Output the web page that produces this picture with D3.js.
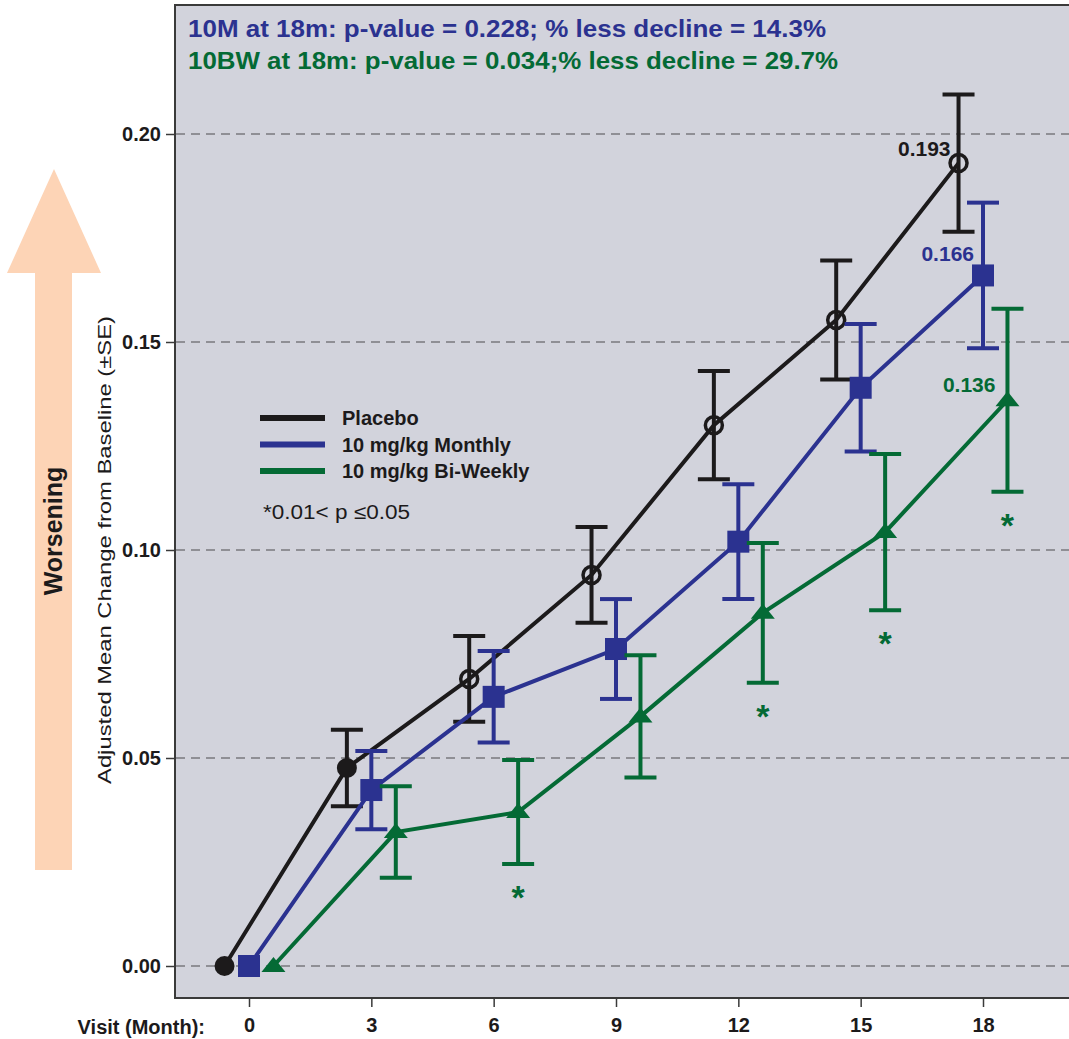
<!DOCTYPE html>
<html>
<head>
<meta charset="utf-8">
<script src="https://cdn.jsdelivr.net/npm/d3@7"></script>
<style>
  body { margin: 0; background: #fff; }
  text { font-family: "Liberation Sans", Arial, sans-serif; }
</style>
</head>
<body>
<svg id="chart" width="1069" height="1039"></svg>
<script>
// data
var months = [0, 3, 6, 9, 12, 15, 18];
var placeboMean = [0, 0.0476, 0.069, 0.094, 0.130, 0.1553, 0.193];
var placeboSE = [0, 0.0092, 0.0103, 0.0115, 0.013, 0.0143, 0.0165];
var monthlyMean = [0, 0.0423, 0.0647, 0.0762, 0.102, 0.139, 0.166];
var monthlySE = [0, 0.0094, 0.011, 0.012, 0.0138, 0.0153, 0.0175];
var biweeklyMean = [0, 0.0322, 0.037, 0.060, 0.0849, 0.1043, 0.136];
var biweeklySE = [0, 0.011, 0.0125, 0.0147, 0.0168, 0.0188, 0.022];
var biweeklySignif = [false, false, true, false, true, true, true];
var yTicks = [0, 0.05, 0.10, 0.15, 0.20];
var seriesNames = ['Placebo', '10 mg/kg Monthly', '10 mg/kg Bi-Weekly'];
var headerLines = ['10M at 18m: p-value = 0.228; % less decline = 14.3%',
                   '10BW at 18m: p-value = 0.034;% less decline = 29.7%'];

var colors = ['#1c1a1b', '#2b3290', '#046a35'];
var bg = '#d2d3dc';
var FONT = '"Liberation Sans", Arial, sans-serif';

var svg = d3.select('#chart');

var x = d3.scaleLinear().domain([0, 18]).range([249, 983]);
var y = d3.scaleLinear().domain([0, 0.2]).range([966, 134]);

// frame (plot box runs off the right edge like the original)
var frameL = 175, frameT = 5, frameB = 998, frameR = 1080;

svg.append('rect')
    .attr('x', frameL).attr('y', frameT)
    .attr('width', frameR - frameL).attr('height', frameB - frameT)
    .attr('fill', bg).attr('stroke', '#3a3a3a').attr('stroke-width', 2);

// grid
svg.append('g').selectAll('line').data(yTicks).enter().append('line')
    .attr('x1', frameL + 1).attr('x2', frameR)
    .attr('y1', (d) => y(d)).attr('y2', (d) => y(d))
    .attr('stroke', '#7a7a7e').attr('stroke-width', 1.3)
    .attr('stroke-dasharray', '9,6');

// y axis
var yAxis = svg.append('g')
    .attr('transform', 'translate(' + frameL + ',0)')
    .call(d3.axisLeft(y).tickValues(yTicks).tickFormat(d3.format('.2f')).tickSize(9).tickPadding(5));
yAxis.select('.domain').remove();
yAxis.selectAll('line').attr('stroke', '#3a3a3a').attr('stroke-width', 1.5);
yAxis.selectAll('text').attr('font-size', 20).attr('font-weight', 'bold')
    .attr('fill', '#1c1a1b').style('font-family', FONT);

// x axis
var xAxis = svg.append('g')
    .attr('transform', 'translate(0,' + frameB + ')')
    .call(d3.axisBottom(x).tickValues(months).tickFormat(d3.format('d')).tickSize(9).tickPadding(11));
xAxis.select('.domain').remove();
xAxis.selectAll('line').attr('stroke', '#3a3a3a').attr('stroke-width', 1.5);
xAxis.selectAll('text').attr('font-size', 20).attr('font-weight', 'bold')
    .attr('fill', '#1c1a1b').style('font-family', FONT);

svg.append('text').attr('x', 205).attr('y', 1034).attr('text-anchor', 'end')
    .attr('font-size', 20).attr('font-weight', 'bold').attr('fill', '#1c1a1b')
    .text('Visit (Month):');

// worsening arrow
svg.append('path')
    .attr('d', 'M35,870 L35,273 L7,273 L54,169 L101,273 L72,273 L72,870 Z')
    .attr('fill', '#fdd4b6');
svg.append('text')
    .attr('transform', 'translate(62,531) rotate(-90)')
    .attr('text-anchor', 'middle')
    .attr('font-size', 25).attr('font-weight', 'bold').attr('fill', '#1c1a1b')
    .text('Worsening');

// y label
svg.append('text')
    .attr('transform', 'translate(111,550) rotate(-90)')
    .attr('text-anchor', 'middle')
    .attr('font-size', 18).attr('fill', '#1c1a1b')
    .attr('textLength', 468).attr('lengthAdjust', 'spacingAndGlyphs')
    .text('Adjusted Mean Change from Baseline  (\u00b1SE)');

// header
svg.append('g').selectAll('text').data(headerLines).enter().append('text')
    .attr('x', 188).attr('y', (d, i) => 37 + i * 32)
    .attr('font-size', 24).attr('font-weight', 'bold')
    .attr('textLength', (d, i) => [638, 650][i]).attr('lengthAdjust', 'spacingAndGlyphs')
    .attr('fill', (d, i) => colors[i + 1])
    .text((d) => d);

// series
var series = [
    { mean: placeboMean, se: placeboSE, off: -0.6, color: colors[0], marker: 'circle' },
    { mean: monthlyMean, se: monthlySE, off: 0, color: colors[1], marker: 'square' },
    { mean: biweeklyMean, se: biweeklySE, off: 0.6, color: colors[2], marker: 'triangle' }
];

var line = d3.line().x((d) => x(d.m)).y((d) => y(d.v));

series.forEach(function(s) {
    var pts = months.map((m, i) => ({ m: m + s.off, v: s.mean[i], se: s.se[i], i: i }));
    var g = svg.append('g');

    // error bars
    var eb = g.selectAll('g.err').data(pts.filter((d) => d.se > 0)).enter().append('g');
    eb.append('line')
        .attr('x1', (d) => x(d.m)).attr('x2', (d) => x(d.m))
        .attr('y1', (d) => y(d.v + d.se)).attr('y2', (d) => y(d.v - d.se))
        .attr('stroke', s.color).attr('stroke-width', 4);
    [1, -1].forEach(function(sign) {
        eb.append('line')
            .attr('x1', (d) => x(d.m) - 16).attr('x2', (d) => x(d.m) + 16)
            .attr('y1', (d) => y(d.v + sign * d.se)).attr('y2', (d) => y(d.v + sign * d.se))
            .attr('stroke', s.color).attr('stroke-width', 4);
    });

    g.append('path').datum(pts).attr('d', line)
        .attr('fill', 'none').attr('stroke', s.color).attr('stroke-width', 4);

    if (s.marker === 'circle') {
        g.selectAll('circle').data(pts).enter().append('circle')
            .attr('cx', (d) => x(d.m)).attr('cy', (d) => y(d.v))
            .attr('r', (d) => d.i < 2 ? 10 : 8.5)
            .attr('fill', (d) => d.i < 2 ? s.color : 'none')
            .attr('stroke', s.color).attr('stroke-width', (d) => d.i < 2 ? 0 : 3.5);
    } else if (s.marker === 'square') {
        g.selectAll('rect').data(pts).enter().append('rect')
            .attr('x', (d) => x(d.m) - 11).attr('y', (d) => y(d.v) - 11)
            .attr('width', 22).attr('height', 22).attr('fill', s.color);
    } else {
        g.selectAll('path.tri').data(pts).enter().append('path')
            .attr('d', (d) => {
                var cx = x(d.m), cy = y(d.v);
                return 'M' + (cx - 12) + ',' + (cy + 6) + 'L' + cx + ',' + (cy - 9) + 'L' + (cx + 12) + ',' + (cy + 6) + 'Z';
            })
            .attr('fill', s.color);
    }
});

// significance asterisks
svg.append('g').selectAll('text')
    .data(months.map((m, i) => ({ m: m + 0.6, v: biweeklyMean[i] - biweeklySE[i], sig: biweeklySignif[i] })).filter((d) => d.sig))
    .enter().append('text')
    .attr('x', (d) => x(d.m)).attr('y', (d) => y(d.v) + 45)
    .attr('text-anchor', 'middle')
    .attr('font-size', 34).attr('font-weight', 'bold').attr('fill', colors[2])
    .text('*');

// end value labels
var endLabels = [
    { text: d3.format('.3f')(placeboMean[6]), m: 18 - 0.6, v: placeboMean[6], dx: -8, dy: -7, color: colors[0] },
    { text: d3.format('.3f')(monthlyMean[6]), m: 18, v: monthlyMean[6], dx: -9, dy: -14, color: colors[1] },
    { text: d3.format('.3f')(biweeklyMean[6]), m: 18 + 0.6, v: biweeklyMean[6], dx: -12, dy: -8, color: colors[2] }
];
svg.append('g').selectAll('text').data(endLabels).enter().append('text')
    .attr('x', (d) => x(d.m) + d.dx).attr('y', (d) => y(d.v) + d.dy)
    .attr('text-anchor', 'end')
    .attr('font-size', 21).attr('font-weight', 'bold')
    .attr('fill', (d) => d.color)
    .text((d) => d.text);

// legend
var legend = svg.append('g').attr('transform', 'translate(260,418)');
var li = legend.selectAll('g').data(seriesNames).enter().append('g')
    .attr('transform', (d, i) => 'translate(0,' + (i * 26.5) + ')');
li.append('line').attr('x1', 0).attr('x2', 65).attr('y1', 0).attr('y2', 0)
    .attr('stroke', (d, i) => colors[i]).attr('stroke-width', 6);
li.append('text').attr('x', 82).attr('y', 7)
    .attr('font-size', 20).attr('font-weight', 'bold').attr('fill', '#1c1a1b')
    .text((d) => d);
legend.append('text').attr('x', 3).attr('y', 101)
    .attr('font-size', 20).attr('fill', '#1c1a1b')
    .attr('textLength', 147).attr('lengthAdjust', 'spacingAndGlyphs')
    .text('*0.01< p \u22640.05');
</script>
</body>
</html>
